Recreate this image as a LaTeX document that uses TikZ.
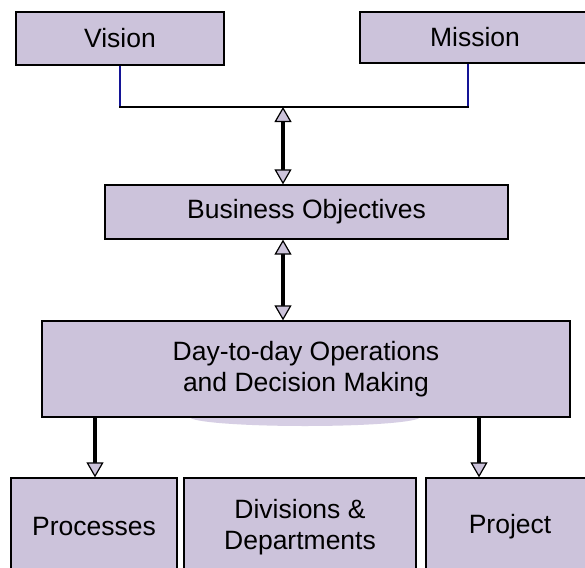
\documentclass[tikz,border=0pt]{standalone}
\usepackage{fontspec}
\setmainfont{Liberation Sans}
\usetikzlibrary{arrows.meta}
\definecolor{lav}{RGB}{204,195,219}
\definecolor{lavlight}{RGB}{214,206,228}
\definecolor{navyline}{RGB}{20,20,150}
\tikzset{
  box/.style={draw=black, line width=1.3pt, fill=lav, inner sep=0pt, align=center,
    font=\fontsize{26.5}{31}\selectfont},
  tipA/.tip={Triangle[width=17pt,length=15pt,line width=1.2pt,fill=lav]},
  fat/.style={draw=black, line width=3.6pt},
  bluel/.style={draw=navyline, line width=1.4pt},
  blackl/.style={draw=black, line width=2.2pt},
}
\begin{document}
\begin{tikzpicture}[x=1pt,y=-1pt]
\useasboundingbox (0,0) rectangle (585,567);
\fill[white] (0,0) rectangle (585,567);
% shadow under the day box
\fill[lavlight] (305,417) ellipse [x radius=115, y radius=9];
\node[box, minimum width=208pt, minimum height=53pt] (vision) at (120,38.5) {Vision};
\node[box, minimum width=230pt, minimum height=51pt] (mission) at (475,37.5) {Mission};
\node[box, minimum width=403pt, minimum height=54pt] (business) at (306.5,212) {Business Objectives};
\node[box, minimum width=528pt, minimum height=96pt] (day) at (306,369) {Day-to-day Operations\\and Decision Making};
\node[box, minimum width=166pt, minimum height=98pt] (proc) at (94,527) {Processes};
\node[box, minimum width=232pt, minimum height=98pt] (div) at (300,527) {Divisions \&\\Departments};
\node[box, minimum width=168pt, minimum height=98pt] (proj) at (510,527) {Project};
\coordinate (jm) at (283,107);
\coordinate (ml) at (468,107);
\coordinate (dl) at (95,0);
\coordinate (dr) at (479,0);
% top connectors
\draw[bluel] (vision.south) -- (vision.south |- jm);
\draw[bluel] (ml |- mission.south) -- (ml);
\draw[blackl] ([xshift=-0.7pt]vision.south |- jm) -- ([xshift=0.7pt]ml);
% double arrows
\draw[fat, {tipA}-{tipA}] (jm) -- (jm |- business.north);
\draw[fat, {tipA}-{tipA}] (jm |- business.south) -- (jm |- day.north);
% down arrows
\draw[fat, -{tipA}] (dl |- day.south) -- (dl |- proc.north);
\draw[fat, -{tipA}] (dr |- day.south) -- (dr |- proj.north);
\end{tikzpicture}
\end{document}
